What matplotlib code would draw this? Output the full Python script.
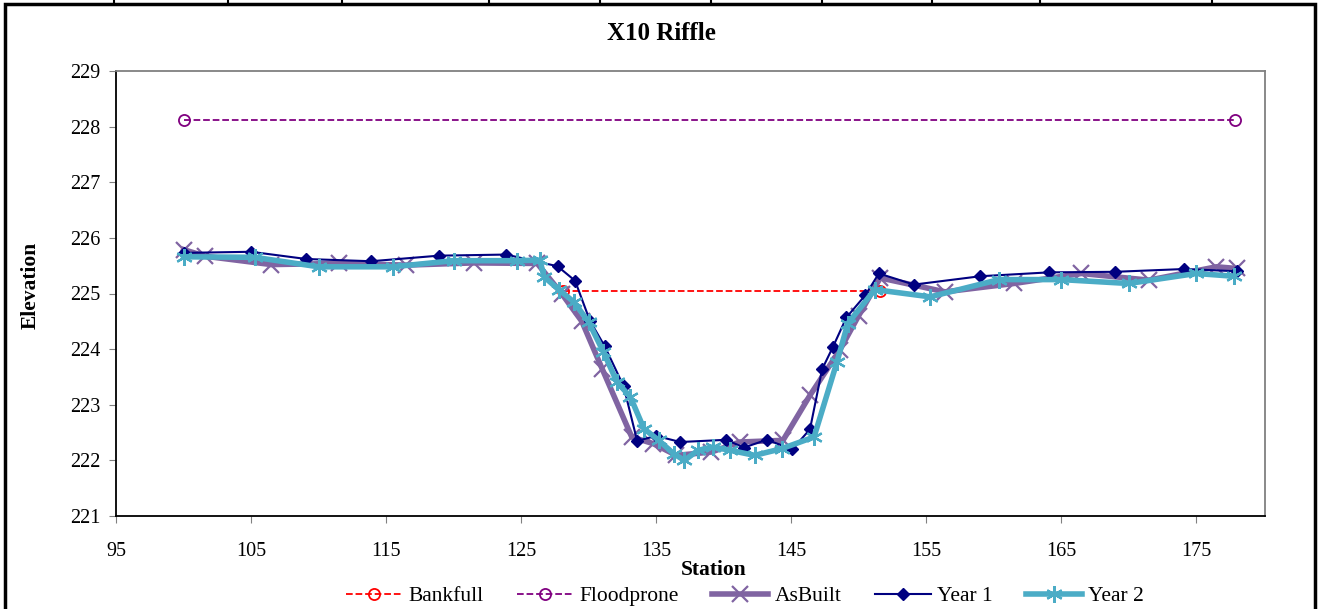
import matplotlib.pyplot as plt
from matplotlib.lines import Line2D
from matplotlib.patches import Rectangle

plt.rcParams["font.family"] = ["Liberation Serif", "DejaVu Serif"]

bankfull_x = [128.1, 151.6]
bankfull_y = [225.05, 225.05]

floodprone_x = [100.0, 177.9]
floodprone_y = [228.12, 228.12]

asbuilt_x = [100.0, 101.6, 106.5, 111.5, 116.5, 121.5, 126.2, 128.0, 129.5, 131.0, 133.2,
             134.8, 136.5, 139.1, 141.2, 144.4, 146.4, 148.6, 150.0, 151.6, 156.4, 161.5,
             166.5, 171.5, 176.5, 178.0]
asbuilt_y = [225.79, 225.67, 225.52, 225.54, 225.51, 225.55, 225.54, 225.0, 224.5, 223.65, 222.42,
             222.3, 222.09, 222.15, 222.33, 222.36, 223.17, 223.98, 224.6, 225.28, 225.03, 225.18,
             225.36, 225.24, 225.48, 225.45]

year1_x = [100.0, 105.0, 109.1, 113.9, 118.9, 123.9, 127.7, 129.0, 130.1, 131.2, 132.6, 133.6,
           135.0, 136.8, 140.2, 141.5, 143.2, 145.1, 146.4, 147.3, 148.1, 149.1, 150.5, 151.5,
           154.1, 159.0, 164.1, 169.0, 174.1, 178.0]
year1_y = [225.73, 225.75, 225.62, 225.58, 225.68, 225.70, 225.49, 225.23, 224.51, 224.05, 223.33, 222.35,
           222.44, 222.33, 222.37, 222.23, 222.37, 222.20, 222.56, 223.64, 224.04, 224.57, 224.97, 225.36,
           225.16, 225.31, 225.38, 225.39, 225.44, 225.40]

year2_x = [100.0, 105.3, 110.0, 115.5, 120.0, 124.7, 126.4, 126.7, 127.8, 128.9, 130.0, 131.1,
           132.1, 133.1, 134.1, 135.2, 136.3, 137.1, 138.1, 139.2, 140.5, 142.3, 144.3, 146.7,
           148.4, 149.2, 151.2, 155.3, 160.4, 165.0, 170.0, 175.0, 177.8]
year2_y = [225.66, 225.65, 225.48, 225.48, 225.59, 225.59, 225.60, 225.30, 225.07, 224.85, 224.49, 223.95,
           223.41, 223.14, 222.57, 222.36, 222.12, 222.00, 222.18, 222.24, 222.18, 222.09, 222.21, 222.42,
           223.77, 224.46, 225.07, 224.94, 225.25, 225.25, 225.18, 225.36, 225.31]

x_ticks = [95, 105, 115, 125, 135, 145, 155, 165, 175]
y_ticks = [221, 222, 223, 224, 225, 226, 227, 228, 229]

fig = plt.figure(figsize=(13.22, 6.09), dpi=100)
ax = fig.add_axes([116 / 1322, 1 - 516 / 609, (1265 - 116) / 1322, (516 - 71) / 609])

star = (6, 2, 0)
ax.plot(bankfull_x, bankfull_y, color="red", linestyle="--", linewidth=1.3,
        marker="o", markersize=8, markerfacecolor="none", markeredgewidth=1.3, label="Bankfull")
ax.plot(floodprone_x, floodprone_y, color="#800080", linestyle="--", linewidth=1.3,
        marker="o", markersize=8, markerfacecolor="none", markeredgewidth=1.3, label="Floodprone")
ax.plot(asbuilt_x, asbuilt_y, color="#8064A2", linewidth=4, marker="x", markersize=11,
        markeredgewidth=1.6, label="AsBuilt")
ax.plot(year1_x, year1_y, color="#000080", linewidth=1.5, marker="D", markersize=6.5, label="Year 1")
ax.plot(year2_x, year2_y, color="#4BACC6", linewidth=4, marker=star, markersize=12,
        markeredgewidth=1.6, label="Year 2")

ax.set_xlim(95, 180.1)
ax.set_ylim(221, 229)
ax.set_xticks(x_ticks)
ax.set_yticks(y_ticks)
ax.tick_params(labelsize=14.5, length=5, color="#808080", pad=6)
ax.tick_params(axis="x", pad=14)
for side in ["left", "bottom"]:
    ax.spines[side].set_color("black")
    ax.spines[side].set_linewidth(1.3)
for side in ["top", "right"]:
    ax.spines[side].set_color("#808080")
    ax.spines[side].set_linewidth(1.3)

fig.text(661 / 1322, 1 - 33 / 609, "X10 Riffle", ha="center", va="center",
         fontsize=18, fontweight="bold")
fig.text(714 / 1322, 1 - 570 / 609, "Station", ha="center", va="center",
         fontsize=15.5, fontweight="bold")
fig.text(31 / 1322, 1 - 285 / 609, "Elevation", ha="center", va="center",
         rotation=90, fontsize=15.5, fontweight="bold")

handles, labels = ax.get_legend_handles_labels()
fig.legend(handles, labels, loc="center", bbox_to_anchor=(745 / 1322, 1 - 596 / 609),
           ncol=5, frameon=False, fontsize=15.5, handlelength=2.6, columnspacing=1.55,
           handletextpad=0.3)

# chart border and the table lines peeking in at the top
fig.patches.append(Rectangle((5 / 1322, -0.05), 1310 / 1322, 1.05 - 4 / 609,
                             transform=fig.transFigure, fill=False,
                             edgecolor="black", linewidth=2.5))
for px in [114, 228, 342, 489, 600, 711, 822, 932, 1040, 1212]:
    fig.lines.append(Line2D([px / 1322, px / 1322], [1 - 4 / 609, 1.0],
                            transform=fig.transFigure, color="black", linewidth=1.5))

fig.savefig("out.png", dpi=100)
